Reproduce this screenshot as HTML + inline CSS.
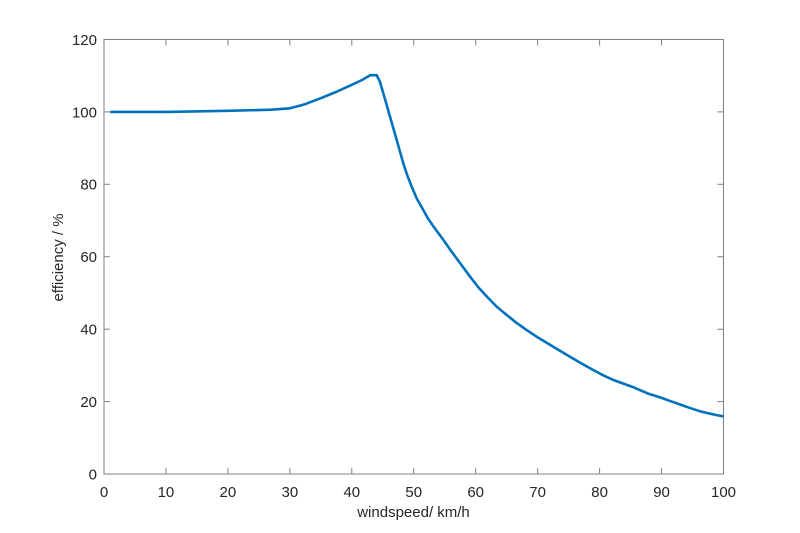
<!DOCTYPE html>
<html>
<head>
<meta charset="utf-8">
<style>
  html,body{margin:0;padding:0;background:#fff;}
  svg{display:block;}
  text{font-family:"Liberation Sans",Arial,sans-serif;fill:#262626;}
</style>
</head>
<body>
<svg width="800" height="533" viewBox="0 0 800 533" xmlns="http://www.w3.org/2000/svg">
  <rect width="800" height="533" fill="#fff"/>
  <rect x="104" y="39.5" width="619.5" height="434.5" fill="#fff" stroke="#808080" stroke-width="1"/>
  <g stroke="#808080" stroke-width="1">
    <line x1="165.95" y1="474" x2="165.95" y2="468"/>
    <line x1="227.9" y1="474" x2="227.9" y2="468"/>
    <line x1="289.85" y1="474" x2="289.85" y2="468"/>
    <line x1="351.8" y1="474" x2="351.8" y2="468"/>
    <line x1="413.75" y1="474" x2="413.75" y2="468"/>
    <line x1="475.7" y1="474" x2="475.7" y2="468"/>
    <line x1="537.65" y1="474" x2="537.65" y2="468"/>
    <line x1="599.6" y1="474" x2="599.6" y2="468"/>
    <line x1="661.55" y1="474" x2="661.55" y2="468"/>
    <line x1="165.95" y1="39.5" x2="165.95" y2="45.5"/>
    <line x1="227.9" y1="39.5" x2="227.9" y2="45.5"/>
    <line x1="289.85" y1="39.5" x2="289.85" y2="45.5"/>
    <line x1="351.8" y1="39.5" x2="351.8" y2="45.5"/>
    <line x1="413.75" y1="39.5" x2="413.75" y2="45.5"/>
    <line x1="475.7" y1="39.5" x2="475.7" y2="45.5"/>
    <line x1="537.65" y1="39.5" x2="537.65" y2="45.5"/>
    <line x1="599.6" y1="39.5" x2="599.6" y2="45.5"/>
    <line x1="661.55" y1="39.5" x2="661.55" y2="45.5"/>
    <line x1="104" y1="401.6" x2="110" y2="401.6"/>
    <line x1="104" y1="329.2" x2="110" y2="329.2"/>
    <line x1="104" y1="256.7" x2="110" y2="256.7"/>
    <line x1="104" y1="184.3" x2="110" y2="184.3"/>
    <line x1="104" y1="111.9" x2="110" y2="111.9"/>
    <line x1="723.5" y1="401.6" x2="717.5" y2="401.6"/>
    <line x1="723.5" y1="329.2" x2="717.5" y2="329.2"/>
    <line x1="723.5" y1="256.7" x2="717.5" y2="256.7"/>
    <line x1="723.5" y1="184.3" x2="717.5" y2="184.3"/>
    <line x1="723.5" y1="111.9" x2="717.5" y2="111.9"/>
  </g>
  <g font-size="15" text-anchor="middle">
    <text x="104" y="497">0</text>
    <text x="165.95" y="497">10</text>
    <text x="227.9" y="497">20</text>
    <text x="289.85" y="497">30</text>
    <text x="351.8" y="497">40</text>
    <text x="413.75" y="497">50</text>
    <text x="475.7" y="497">60</text>
    <text x="537.65" y="497">70</text>
    <text x="599.6" y="497">80</text>
    <text x="661.55" y="497">90</text>
    <text x="723.5" y="497">100</text>
  </g>
  <g font-size="15" text-anchor="end">
    <text x="97" y="479.4">0</text>
    <text x="97" y="407">20</text>
    <text x="97" y="334.6">40</text>
    <text x="97" y="262.1">60</text>
    <text x="97" y="189.7">80</text>
    <text x="97" y="117.3">100</text>
    <text x="97" y="44.9">120</text>
  </g>
  <text x="413.5" y="517" font-size="15" text-anchor="middle">windspeed/ km/h</text>
  <text transform="translate(63,257.5) rotate(-90)" font-size="15" text-anchor="middle">efficiency / %</text>
  <polyline fill="none" stroke="#0072BD" stroke-width="2.6" stroke-linejoin="round" stroke-linecap="butt"
    points="110.2,111.9 166.0,111.9 227.9,110.8 271.3,109.7 289.9,108.3 305,104.2 320.8,98.2 336,92 351.8,84.8 362,80 370.2,75.2 376.7,75.2 380,82 383.3,93.3 386.7,105 390,116.7 396.7,140 403.3,163.3 407.5,176 411.7,186.7 417,199 423.3,210 428,218.5 433.6,226.7 442,238 450.3,249.9 460,263 470.1,276.7 478.5,287.5 486.9,296.6 496.5,306.5 506.7,315.0 516.5,322.8 526.5,329.9 536.5,336.6 546.9,342.9 556.8,348.9 566.8,354.9 580,362.6 593.4,370.1 603,375.2 613.2,379.9 623,383.5 633.1,387.1 641,390.6 649.2,394.0 655.5,395.9 661.6,397.9 669.5,400.8 677.0,403.4 685,406.3 692.5,408.8 700,411.2 708.0,413.2 716,415.0 723.5,416.4"/>
</svg>
</body>
</html>
